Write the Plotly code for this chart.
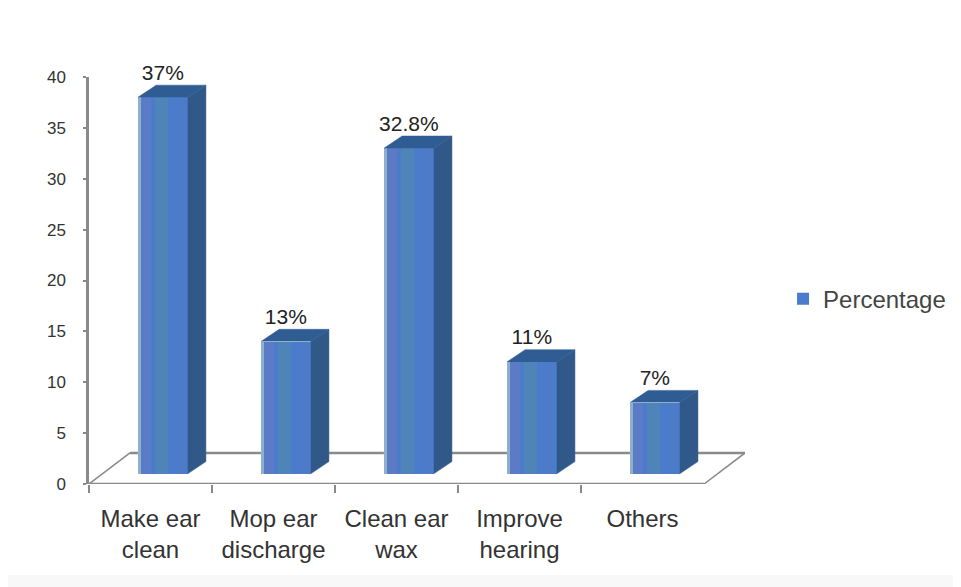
import plotly.graph_objects as go

categories = ["Make ear<br>clean", "Mop ear<br>discharge", "Clean ear<br>wax", "Improve<br>hearing", "Others"]
values = [37, 13, 32, 11, 7]
value_labels = ["37%", "13%", "32.8%", "11%", "7%"]
y_ticks = [0, 5, 10, 15, 20, 25, 30, 35, 40]
series_name = "Percentage"

BASE = 1.0
SHIFT = 0.1
WIDTH = 0.405
DX = 0.148
DY = 1.2
FLOOR_DX = 0.333
FLOOR_DY = 3.05
AXIS = "#8a8a8a"

fig = go.Figure()
xs = [i + SHIFT for i in range(len(values))]


def poly(px, py, color):
    fig.add_trace(go.Scatter(x=px, y=py, mode="lines", fill="toself", fillcolor=color,
                             line=dict(color=color, width=0.5), showlegend=False, hoverinfo="skip"))


def line(px, py, width=2):
    fig.add_trace(go.Scatter(x=px, y=py, mode="lines", line=dict(color=AXIS, width=width),
                             showlegend=False, hoverinfo="skip"))


# floor: the back edge runs only in the gaps between the columns, which hide it
line([-0.5, 4.5], [0, 0], 2.5)
line([-0.5, -0.5 + FLOOR_DX], [0, FLOOR_DY], 1.5)
line([4.5, 4.5 + FLOOR_DX], [0, FLOOR_DY], 1.5)
back_x, back_y = [-0.5 + FLOOR_DX], [FLOOR_DY]
for x in xs:
    back_x += [x - WIDTH / 2, None, x + WIDTH / 2 + DX]
    back_y += [FLOOR_DY, None, FLOOR_DY]
back_x.append(4.5 + FLOOR_DX)
back_y.append(FLOOR_DY)
line(back_x, back_y, 2.5)

# side and top faces
for x, v in zip(xs, values):
    l, r = x - WIDTH / 2, x + WIDTH / 2
    top = BASE + v
    poly([r, r + DX, r + DX, r], [BASE, BASE + DY, top + DY, top], "#30598a")
    poly([l, l + DX, r + DX, r], [top, top + DY, top + DY, top], "#2f5c92")

# front face, with the banded shading of the original
fig.add_trace(go.Bar(x=xs, y=values, base=BASE, width=WIDTH, name=series_name,
                     marker=dict(color="#4a7ccb", line=dict(width=0)), hoverinfo="skip"))
for off, w, c in [(-0.2025, 0.025, "#8fb0cc"), (-0.1775, 0.08, "#5b7bc6"), (-0.06, 0.1, "#4f84b8"), (0.12, 0.06, "#4d7bc8")]:
    fig.add_trace(go.Bar(x=[x + off + w / 2 for x in xs], y=values, base=BASE, width=w,
                         marker=dict(color=c, line=dict(width=0)), showlegend=False, hoverinfo="skip"))

# value labels
fig.add_trace(go.Scatter(x=xs, y=[BASE + v + DY for v in values], mode="text", text=value_labels,
                         textposition="top center", cliponaxis=False,
                         textfont=dict(family="Liberation Sans", size=21, color="#222222"),
                         showlegend=False, hoverinfo="skip"))

fig.update_layout(
    width=961, height=587, autosize=False,
    paper_bgcolor="white", plot_bgcolor="white",
    margin=dict(l=81, r=224, t=69, b=111),
    barmode="overlay", bargap=0,
    font=dict(family="Liberation Sans", color="#333333"),
    xaxis=dict(range=[-0.5, 4.5 + FLOOR_DX], tickmode="array", tickvals=list(range(5)), ticktext=categories,
               ticks="", showgrid=False, zeroline=False, showline=False,
               tickfont=dict(size=24, color="#333333"), ticklabelstandoff=18,
               minor=dict(tickmode="array", tickvals=[-0.5, 0.5, 1.5, 2.5, 3.5], ticks="outside",
                          ticklen=8, tickwidth=1.5, tickcolor=AXIS, showgrid=False)),
    yaxis=dict(range=[0, 40], tickmode="array", tickvals=y_ticks, ticks="outside", ticklen=3, tickwidth=1.5,
               tickcolor=AXIS, showgrid=False, zeroline=False, showline=True, linecolor=AXIS, linewidth=2.5,
               tickfont=dict(size=17, color="#333333"), ticklabelstandoff=14),
    legend=dict(x=1.058, xanchor="left", xref="paper", y=0.454, yanchor="middle", yref="paper",
                font=dict(size=24, color="#444444"), bgcolor="rgba(0,0,0,0)", itemwidth=30),
    shapes=[dict(type="rect", xref="paper", yref="paper", x0=-0.2, x1=1.4, y0=-0.27, y1=-0.2236,
                 fillcolor="#f8f8f8", line=dict(width=0), layer="below")],
)
fig.write_html("out.html")
